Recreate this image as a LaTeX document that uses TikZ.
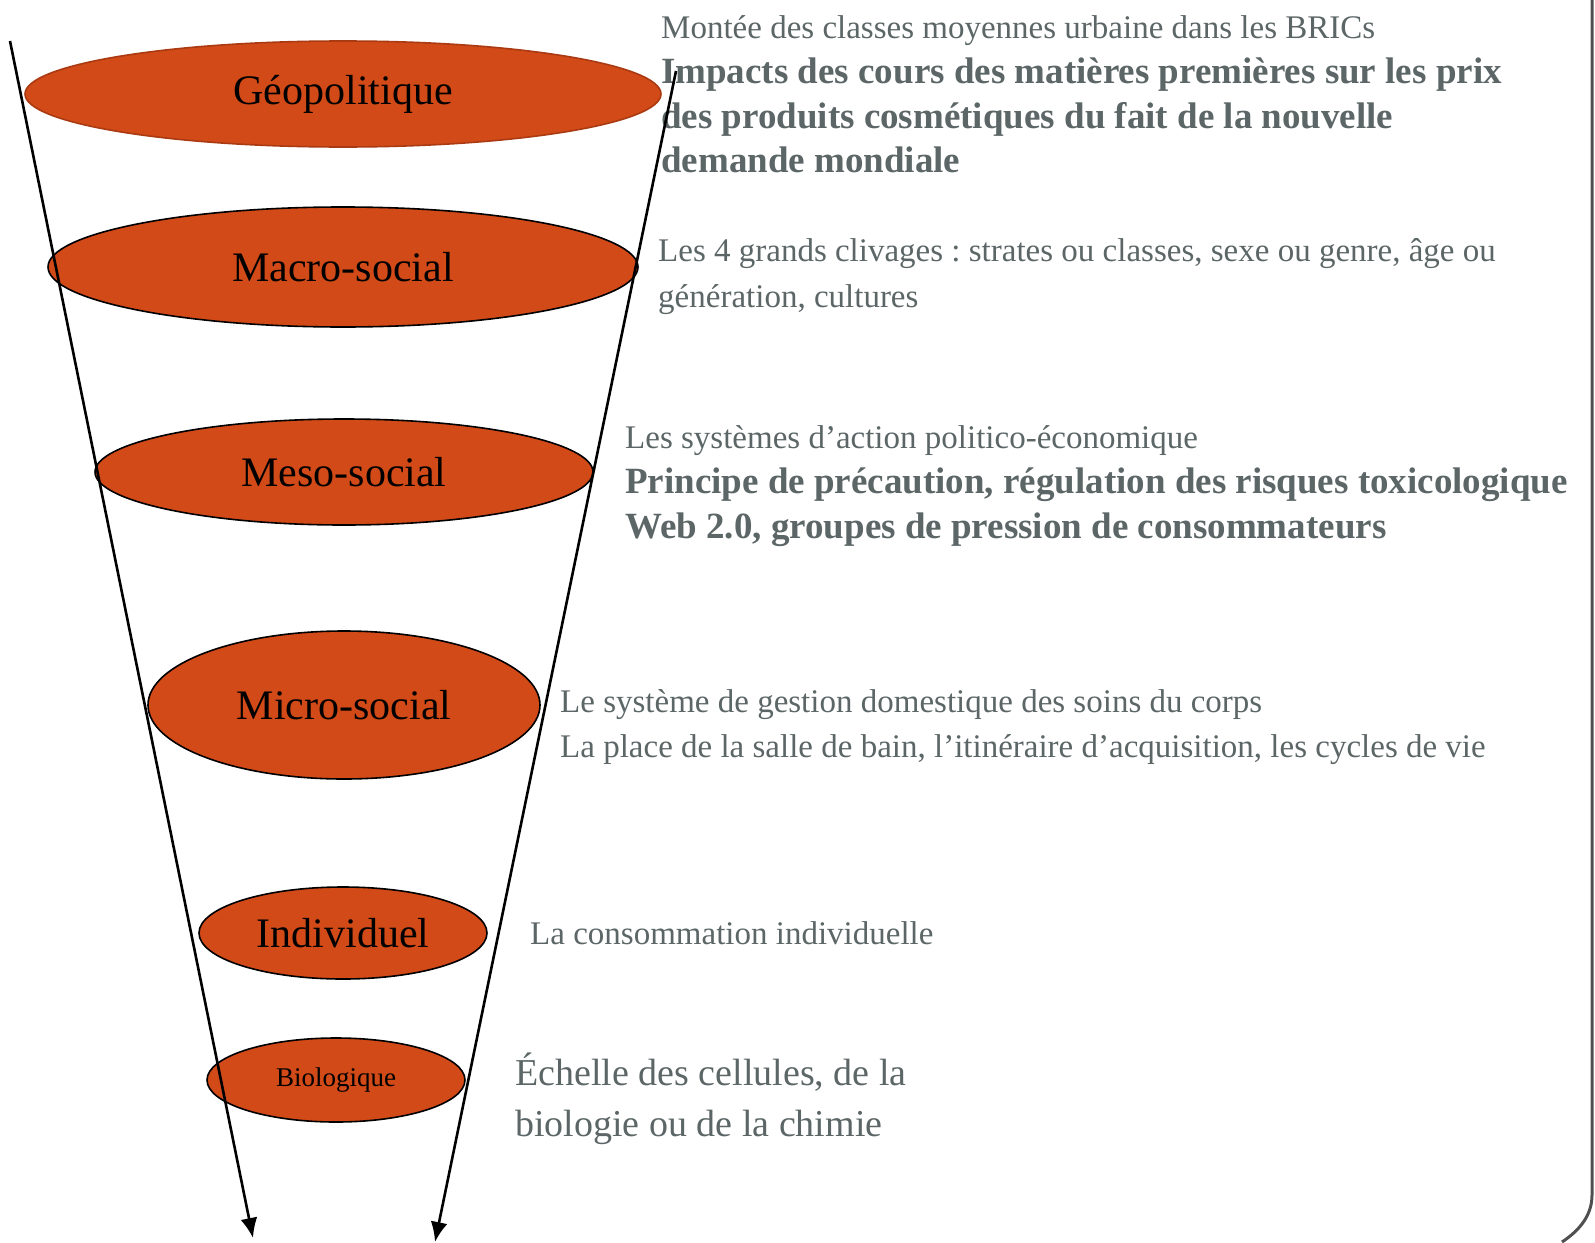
\documentclass[tikz,border=0pt]{standalone}
\usepackage{fontspec}
\setmainfont{Liberation Serif}
\usepackage{tikz}
\usetikzlibrary{arrows.meta, positioning, calc, shapes.geometric}
\definecolor{rouille}{RGB}{209,74,23}
\definecolor{rouillebord}{RGB}{170,58,18}
\definecolor{ardoise}{RGB}{92,102,102}
\definecolor{cadre}{RGB}{80,80,80}
\frenchspacing

\begin{document}
\begin{tikzpicture}[
          x=1pt, y=-1pt,
          echelle/.style={ellipse, draw=black, line width=1.6pt, fill=rouille,
            inner sep=0pt, font=\fontsize{42}{48}\selectfont},
          note/.style={anchor=base west, inner sep=0pt, text=ardoise,
            font=\fontsize{33}{44}\selectfont},
          notebf/.style={note, font=\fontsize{37}{44}\selectfont\bfseries},
          entonnoir/.style={-{Latex[length=20pt,width=17pt]}, line width=2.6pt},
          >=Stealth
        ]
        \useasboundingbox (0,0) rectangle (1595,1242);
        % ellipses
        \node [echelle, draw=rouillebord, minimum width=636pt, minimum height=106pt] (geo) at (343,94) {Géopolitique};
        \node [echelle, minimum width=590pt, minimum height=120pt] (macro) at (343,267) {Macro-social};
        \node [echelle, minimum width=498pt, minimum height=106pt] (meso) at (344,472) {Meso-social};
        \node [echelle, minimum width=392pt, minimum height=148pt] (micro) at (344,705) {Micro-social};
        \node [echelle, minimum width=288pt, minimum height=92pt] (indiv) at (343,933) {Individuel};
        \node [echelle, minimum width=258pt, minimum height=84pt, font=\fontsize{27}{32}\selectfont] (bio) at (336,1080) {Biologique};
        % textes
        \node [note] (t11) at (661,38) {Montée des classes moyennes urbaine dans les BRICs};
        \node [notebf] (t12) at (661,83) {Impacts des cours des matières premières sur les prix};
        \node [notebf] (t13) at (661,128) {des produits cosmétiques du fait de la nouvelle};
        \node [notebf] (t14) at (661,172) {demande mondiale};
        \node [note] (t21) at (658,261) {Les 4 grands clivages : strates ou classes, sexe ou genre, âge ou};
        \node [note] (t22) at (658,307) {génération, cultures};
        \node [note] (t31) at (625,448) {Les systèmes d’action politico-économique};
        \node [notebf] (t32) at (625,493) {Principe de précaution, régulation des risques toxicologique};
        \node [notebf] (t33) at (625,538) {Web 2.0, groupes de pression de consommateurs};
        \node [note] (t41) at (560,712) {Le système de gestion domestique des soins du corps};
        \node [note] (t42) at (560,757) {La place de la salle de bain, l’itinéraire d’acquisition, les cycles de vie};
        \node [note] (t51) at (530,944) {La consommation individuelle};
        \node [note, font=\fontsize{38}{50}\selectfont] (t61) at (515,1085) {Échelle des cellules, de la};
        \node [note, font=\fontsize{38}{50}\selectfont] (t62) at (515,1136) {biologie ou de la chimie};
        % fleches
        \coordinate (gh) at (10,41);
        \coordinate (gb) at (253,1238);
        \coordinate (dh) at (676,71);
        \coordinate (db) at (435,1242);
        \draw [entonnoir] (gh) -- (gb);
        \draw [entonnoir] (dh) -- (db);
        % cadre
        \draw [cadre, line width=3pt] (1592,0) -- (1592,1195) .. controls (1592,1215) and (1580,1230) .. (1562,1242);
\end{tikzpicture}
\end{document}
